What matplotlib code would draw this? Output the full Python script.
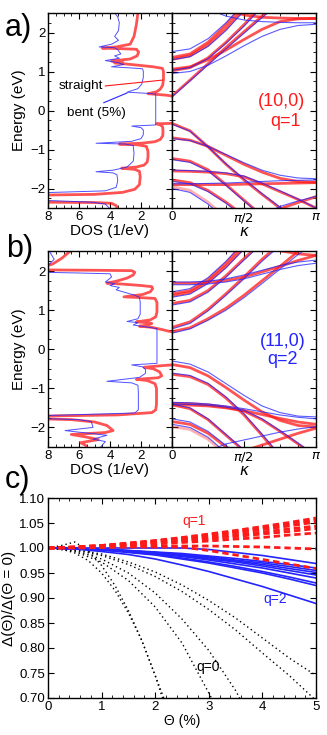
import matplotlib
matplotlib.use('Agg')
import matplotlib.pyplot as plt
import numpy as np
from matplotlib.ticker import MultipleLocator, FixedLocator

plt.rcParams['font.family'] = ['Liberation Sans', 'DejaVu Sans']
plt.rcParams['mathtext.fontset'] = 'dejavusans'

nan = np.nan

# ---------------- DOS curves (DOS value, energy) ----------------
a_red_dos = [2.2, 2.3, 2.45, 2.7, 3.6, 4.5, 3.3, 2.3, 2.15, 2.25, 2.7, 3.9, 3.2, 3.7, 2.4, 1.2,
             0.62, 0.55, 0.55, 0.6, 0.75, 1.0, 1.55, 0.9, 0.3, 0.0, nan,
             0.0, 1.0, 0.75, 0.6, 0.58, 0.6, 0.75, 1.1, 2.0, 3.4, 2.2, 1.65, 1.55, 1.55, 1.6, 1.8,
             2.3, 3.25, 2.4, 2.1, 2.05, 2.1, 2.4, 3.2, 5.0, 8.5, 8.5, 5.0, 3.9, 3.6, 3.55]
a_red_e = [2.5, 2.2, 1.9, 1.7, 1.63, 1.60, 1.585, 1.57, 1.5, 1.4, 1.32, 1.27, 1.25, 1.22, 1.17, 1.12,
           1.08, 1.0, 0.8, 0.65, 0.55, 0.48, 0.43, 0.41, 0.39, 0.37, nan,
           -0.33, -0.34, -0.37, -0.42, -0.55, -0.65, -0.74, -0.80, -0.84, -0.86, -0.88, -0.92, -1.05,
           -1.2, -1.32, -1.40, -1.45, -1.48, -1.51, -1.56, -1.7, -1.9, -2.02, -2.1, -2.15, -2.17,
           -2.35, -2.36, -2.38, -2.44, -2.5]

a_blue_dos = [3.7, 3.5, 3.4, 3.45, 3.7, 3.45, 3.9, 4.7, 3.7, 3.5, 3.3, 3.7, 3.4, 4.3, 3.5, 3.1, 3.9,
              2.6, 1.9, 1.85, 1.85, 1.95, 2.2, 2.9, 1.6, 1.05, 1.05, 2.6, 2.0, 1.85, 1.85, 2.0, 2.6,
              4.9, 3.0, 2.5, 2.45, 2.5, 2.9, 3.8, 4.9, 3.8, 3.55, 3.5, 3.6, 4.3, 8.5, 8.5, 5.2, 4.3, 4.05]
a_blue_e = [2.5, 2.4, 2.25, 2.05, 1.9, 1.8, 1.7, 1.63, 1.61, 1.56, 1.45, 1.4, 1.34, 1.28, 1.23, 1.18,
            1.12, 1.09, 1.07, 1.0, 0.85, 0.68, 0.56, 0.47, 0.44, 0.42, -0.37, -0.40, -0.44, -0.5,
            -0.62, -0.72, -0.79, -0.84, -0.86, -0.9, -1.1, -1.3, -1.45, -1.53, -1.57, -1.6, -1.65,
            -1.8, -1.97, -2.06, -2.11, -2.3, -2.35, -2.4, -2.5]

b_red_dos = [6.6, 7.1, 7.7, 8.5, 8.5, 5.0, 2.6, 2.4, 2.5, 2.9, 3.6, 4.2, 3.3, 2.0, 1.3, 1.25, 1.4, 1.9,
             3.1, 2.0, 1.1, 0.97, 0.97, 1.05, 1.4, 2.3, 1.6, 1.3, 1.6, 2.1, 1.3, 0.6, 0.2, 0.0, nan,
             0.0, 0.97, 1.8, 1.2, 0.8, 0.66, 0.9, 2.3, 1.6, 1.1, 1.0, 1.0, 1.05, 1.3, 3.5, 8.5, 8.5,
             6.5, 5.0, 4.2, 3.8, 4.3, 6.5, 5.6, 4.75, 5.9, 5.6, 5.5]
b_red_e = [2.5, 2.33, 2.18, 2.08, 2.03, 2.02, 2.01, 1.97, 1.90, 1.82, 1.74, 1.69, 1.67, 1.63, 1.60,
           1.55, 1.47, 1.40, 1.34, 1.32, 1.30, 1.2, 0.95, 0.83, 0.75, 0.70, 0.68, 0.66, 0.62, 0.59,
           0.56, 0.50, 0.46, 0.45, nan,
           -0.40, -0.43, -0.46, -0.50, -0.58, -0.68, -0.73, -0.77, -0.80, -0.88, -1.0, -1.4, -1.55,
           -1.62, -1.68, -1.71, -1.78, -1.80, -1.86, -1.95, -2.08, -2.13, -2.18, -2.24, -2.31, -2.39,
           -2.45, -2.5]

b_blue_dos = [7.9, 7.6, 7.9, 8.5, 8.5, 6.0, 4.0, 3.9, 4.1, 4.3, 3.7, 4.0, 3.4, 3.6, 3.0, 2.4, 2.1,
              2.05, 2.05, 2.2, 2.9, 2.2, 2.5, 1.5, 0.97, 0.97, 2.6, 1.9, 1.7, 1.72, 2.1, 4.2, 2.6,
              2.2, 2.17, 2.17, 2.4, 8.5, 8.5, 6.0, 5.2, 5.1, 6.9, 4.2, 5.1, 4.3, 4.6]
b_blue_e = [2.5, 2.3, 2.18, 2.12, 1.97, 1.95, 1.93, 1.85, 1.78, 1.72, 1.68, 1.63, 1.58, 1.52, 1.45,
            1.38, 1.33, 1.2, 0.9, 0.78, 0.71, 0.68, 0.62, 0.56, 0.53, -0.36, -0.40, -0.45, -0.52,
            -0.62, -0.72, -0.82, -0.86, -0.92, -1.1, -1.55, -1.63, -1.70, -1.77, -1.80, -1.85,
            -2.0, -2.08, -2.2, -2.3, -2.36, -2.5]

# ---------------- band structures, energies at kappa/pi below ----------------
k_frac = [0, 0.125, 0.25, 0.375, 0.5, 0.625, 0.75, 0.875, 1.0]

a_red_bands = [
    [0.37, 0.78, 1.20, 1.62, 2.02, 2.42, 2.8, 3.2, 3.5],
    [1.06, 1.12, 1.30, 1.55, 1.82, 2.08, 2.28, 2.35, 2.36],
    [1.02, 1.10, 1.35, 1.75, 2.2, 2.7, 3.1, 3.4, 3.5],
    [1.31, 1.40, 1.68, 2.10, 2.6, 3.0, 3.4, 3.5, 3.5],
    [1.36, 1.45, 1.75, 2.2, 2.7, 3.1, 3.4, 3.5, 3.5],
    [3.4, 3.1, 2.8, 2.58, 2.45, 2.39, 2.37, 2.36, 2.36],
    [-0.33, -0.52, -0.93, -1.38, -1.78, -2.15, -2.5, -2.85, -3.1],
    [-0.70, -0.76, -0.92, -1.15, -1.38, -1.58, -1.74, -1.82, -1.84],
    [-1.23, -1.30, -1.52, -1.90, -2.30, -2.7, -3.0, -3.2, -3.3],
    [-1.90, -1.90, -1.90, -1.90, -1.89, -1.88, -1.87, -1.86, -1.85],
    [-1.78, -1.85, -2.05, -2.35, -2.7, -3.0, -3.2, -3.3, -3.3],
    [-3.3, -3.3, -3.2, -3.1, -2.95, -2.75, -2.52, -2.36, -2.21],
    [-1.55, -1.56, -1.58, -1.62, -1.70, -1.88, -2.08, -2.28, -2.5],
]
a_pink_bands = [
    [-1.95, -2.05, -2.35, -2.75, -3.1, -3.3, -3.3, -3.3, -3.3],
]
a_blue_bands = [
    [0.35, 0.76, 1.17, 1.58, 1.98, 2.38, 2.76, 3.1, 3.4],
    [0.95, 1.0, 1.16, 1.40, 1.66, 1.90, 2.08, 2.18, 2.21],
    [1.03, 1.10, 1.33, 1.72, 2.16, 2.65, 3.0, 3.3, 3.4],
    [1.30, 1.38, 1.64, 2.05, 2.55, 3.0, 3.3, 3.4, 3.4],
    [1.51, 1.58, 1.84, 2.25, 2.75, 3.1, 3.3, 3.4, 3.4],
    [3.1, 2.85, 2.6, 2.42, 2.32, 2.28, 2.26, 2.25, 2.25],
    [-0.35, -0.53, -0.93, -1.37, -1.76, -2.13, -2.48, -2.85, -3.1],
    [-0.72, -0.77, -0.92, -1.13, -1.34, -1.53, -1.66, -1.73, -1.75],
    [-1.26, -1.33, -1.55, -1.92, -2.32, -2.7, -3.0, -3.2, -3.3],
    [-1.88, -1.88, -1.87, -1.86, -1.84, -1.82, -1.80, -1.79, -1.78],
    [-1.82, -1.88, -2.08, -2.38, -2.72, -3.0, -3.2, -3.3, -3.3],
    [-2.0, -2.1, -2.4, -2.8, -3.1, -3.3, -3.3, -3.3, -3.3],
    [-3.3, -3.3, -3.2, -3.1, -2.9, -2.68, -2.46, -2.32, -2.2],
    [-1.53, -1.54, -1.56, -1.60, -1.68, -1.86, -2.06, -2.27, -2.5],
]

b_red_bands = [
    [0.45, 0.55, 0.78, 1.05, 1.38, 1.75, 2.12, 2.5, 2.8],
    [0.56, 0.70, 1.02, 1.42, 1.85, 2.3, 2.7, 3.0, 3.0],
    [1.17, 1.25, 1.50, 1.88, 2.32, 2.75, 3.0, 3.0, 3.0],
    [1.37, 1.45, 1.72, 2.12, 2.6, 3.0, 3.0, 3.0, 3.0],
    [1.42, 1.50, 1.78, 2.2, 2.7, 3.0, 3.0, 3.0, 3.0],
    [1.69, 1.69, 1.71, 1.76, 1.85, 1.98, 2.12, 2.27, 2.40],
    [3.0, 3.0, 3.0, 2.95, 2.8, 2.65, 2.52, 2.44, 2.40],
    [-0.39, -0.47, -0.68, -0.98, -1.30, -1.60, -1.82, -1.95, -1.99],
    [-0.64, -0.70, -0.90, -1.25, -1.68, -2.2, -2.75, -3.2, -3.5],
    [-1.38, -1.39, -1.42, -1.48, -1.57, -1.67, -1.77, -1.86, -1.92],
    [-1.42, -1.52, -1.80, -2.2, -2.6, -3.0, -3.3, -3.5, -3.5],
    [-1.85, -1.92, -2.15, -2.5, -2.9, -3.3, -3.5, -3.5, -3.5],
    [-3.5, -3.3, -3.0, -2.8, -2.6, -2.45, -2.30, -2.15, -2.02],
    [-1.42, -1.43, -1.45, -1.50, -1.58, -1.80, -2.10, -2.42, -2.75],
]
b_pink_bands = [
    [-1.98, -2.05, -2.3, -2.7, -3.1, -3.5, -3.5, -3.5, -3.5],
]
b_blue_bands = [
    [0.41, 0.52, 0.74, 1.0, 1.32, 1.68, 2.05, 2.42, 2.75],
    [0.52, 0.66, 0.98, 1.38, 1.8, 2.25, 2.65, 3.0, 3.0],
    [1.13, 1.21, 1.46, 1.84, 2.28, 2.7, 3.0, 3.0, 3.0],
    [1.33, 1.41, 1.68, 2.08, 2.56, 3.0, 3.0, 3.0, 3.0],
    [1.47, 1.55, 1.83, 2.25, 2.75, 3.0, 3.0, 3.0, 3.0],
    [1.65, 1.65, 1.67, 1.72, 1.80, 1.92, 2.04, 2.14, 2.20],
    [1.72, 1.72, 1.74, 1.80, 1.90, 2.02, 2.14, 2.23, 2.28],
    [-0.30, -0.38, -0.58, -0.88, -1.18, -1.45, -1.62, -1.71, -1.73],
    [-0.61, -0.67, -0.87, -1.22, -1.65, -2.17, -2.72, -3.2, -3.5],
    [-1.36, -1.37, -1.40, -1.45, -1.52, -1.60, -1.68, -1.74, -1.78],
    [-1.40, -1.50, -1.78, -2.18, -2.58, -3.0, -3.3, -3.5, -3.5],
    [-1.78, -1.86, -2.10, -2.46, -2.85, -3.2, -3.5, -3.5, -3.5],
    [-1.92, -2.0, -2.25, -2.65, -3.0, -3.5, -3.5, -3.5, -3.5],
    [-3.5, -3.0, -2.6, -2.42, -2.32, -2.22, -2.12, -2.04, -1.98],
    [-1.40, -1.41, -1.43, -1.48, -1.56, -1.78, -2.08, -2.40, -2.72],
]

# ---------------- panel c: gap ratio vs bending ----------------
c_theta = [0, 0.5, 1, 1.5, 2, 2.5, 3, 3.5, 4, 4.5, 5]
c_q1 = [
    [1.000, 1.002, 1.005, 1.010, 1.015, 1.021, 1.028, 1.035, 1.043, 1.051, 1.060],
    [1.000, 1.002, 1.005, 1.009, 1.014, 1.020, 1.026, 1.033, 1.040, 1.048, 1.056],
    [1.000, 1.002, 1.005, 1.009, 1.013, 1.018, 1.024, 1.030, 1.037, 1.044, 1.052],
    [1.000, 1.001, 1.004, 1.007, 1.011, 1.016, 1.020, 1.026, 1.032, 1.038, 1.044],
    [1.000, 1.001, 1.003, 1.006, 1.010, 1.014, 1.018, 1.023, 1.028, 1.033, 1.039],
    [1.000, 1.001, 1.003, 1.005, 1.008, 1.011, 1.014, 1.018, 1.021, 1.026, 1.030],
    [1.000, 1.001, 1.002, 1.003, 1.004, 1.004, 1.004, 1.003, 1.002, 1.000, 0.998],
    [1.000, 1.000, 1.001, 1.002, 1.002, 1.002, 0.995, 0.986, 0.977, 0.968, 0.959],
]
c_q2 = [
    [1.000, 1.000, 1.000, 1.000, 1.000, 1.000, 0.997, 0.991, 0.985, 0.977, 0.969],
    [1.000, 0.999, 0.998, 0.995, 0.992, 0.989, 0.984, 0.979, 0.973, 0.967, 0.960],
    [1.000, 0.999, 0.998, 0.995, 0.991, 0.987, 0.982, 0.976, 0.970, 0.963, 0.955],
    [1.000, 0.999, 0.997, 0.994, 0.991, 0.986, 0.980, 0.974, 0.967, 0.959, 0.951],
    [1.000, 0.999, 0.997, 0.994, 0.990, 0.985, 0.978, 0.972, 0.964, 0.955, 0.946],
    [1.000, 0.999, 0.997, 0.993, 0.988, 0.983, 0.976, 0.968, 0.960, 0.950, 0.940],
    [1.000, 0.999, 0.996, 0.992, 0.987, 0.980, 0.972, 0.963, 0.953, 0.942, 0.930],
    [1.000, 0.999, 0.996, 0.991, 0.986, 0.978, 0.970, 0.960, 0.950, 0.938, 0.925],
    [1.000, 0.998, 0.993, 0.987, 0.978, 0.966, 0.953, 0.938, 0.923, 0.906, 0.889],
]
c_q0_theta = [
    [0, 0.25, 0.5, 0.75, 1.0, 1.25, 1.5, 1.75, 2.0, 2.25],
    [0, 0.25, 0.5, 0.75, 1.0, 1.25, 1.5, 1.75, 2.0, 2.15],
    [0, 0.5, 1, 1.5, 2, 2.5, 3.0, 3.1],
    [0, 0.5, 1, 1.5, 2, 2.5, 3, 3.5, 3.6],
    [0, 0.5, 1, 1.5, 2, 2.5, 3, 3.5, 4, 4.5, 5],
    [0, 0.5, 1, 1.5, 2, 2.5, 3, 3.5, 4, 4.5, 5],
]
c_q0 = [
    [1.000, 1.005, 1.012, 0.995, 0.965, 0.925, 0.875, 0.815, 0.745, 0.675],
    [1.000, 0.998, 0.990, 0.975, 0.950, 0.915, 0.870, 0.815, 0.745, 0.695],
    [1.000, 0.993, 0.972, 0.935, 0.882, 0.810, 0.710, 0.690],
    [1.000, 0.995, 0.978, 0.950, 0.910, 0.858, 0.795, 0.715, 0.695],
    [1.000, 0.997, 0.988, 0.972, 0.952, 0.926, 0.895, 0.860, 0.820, 0.780, 0.745],
    [1.000, 0.996, 0.985, 0.967, 0.943, 0.913, 0.877, 0.836, 0.790, 0.745, 0.695],
]

RED = '#ff1a1a'
BLUE = '#2424ff'
W, H = 327.0, 735.0

fig = plt.figure(figsize=(3.27, 7.35), dpi=100)


def style(ax):
    ax.tick_params(which='both', direction='in', top=True, right=True, labelsize=9.5, pad=2)
    ax.tick_params(which='major', length=4, width=0.8)
    ax.tick_params(which='minor', length=2, width=0.6)
    for s in ax.spines.values():
        s.set_linewidth(1.0)


def dos_panel(top, bottom, red_d, red_e, blue_d, blue_e):
    ax = fig.add_axes([48 / W, 1 - bottom / H, 124 / W, (bottom - top) / H])
    ax.plot(red_d, red_e, color=RED, lw=2.0, alpha=0.75, solid_joinstyle='round')
    ax.plot(blue_d, blue_e, color=BLUE, lw=0.7, alpha=0.8)
    ax.set_xlim(8, 0)
    ax.set_ylim(-2.5, 2.5)
    ax.xaxis.set_major_locator(FixedLocator([8, 6, 4, 2, 0]))
    ax.xaxis.set_minor_locator(MultipleLocator(0.5))
    ax.yaxis.set_major_locator(MultipleLocator(1))
    ax.yaxis.set_minor_locator(MultipleLocator(0.25))
    style(ax)
    ax.set_xlabel('DOS (1/eV)', fontsize=11, labelpad=1)
    ax.set_ylabel('Energy (eV)', fontsize=11, labelpad=3)
    return ax


def band_panel(top, bottom, red_b, pink_b, blue_b):
    ax = fig.add_axes([172 / W, 1 - bottom / H, 144 / W, (bottom - top) / H])
    kk = np.array(k_frac) * np.pi
    for b in red_b:
        ax.plot(kk, b, color=RED, lw=2.0, alpha=0.75)
    for b in pink_b:
        ax.plot(kk, b, color=RED, lw=2.0, alpha=0.35)
    for b in blue_b:
        ax.plot(kk, b, color=BLUE, lw=0.8, alpha=0.75)
    ax.set_xlim(0, np.pi)
    ax.set_ylim(-2.5, 2.5)
    ax.set_xticks([0, np.pi / 2, np.pi])
    ax.set_xticklabels(['', r'$\pi/2$', r'$\pi$'])
    ax.xaxis.set_minor_locator(MultipleLocator(np.pi / 8))
    ax.yaxis.set_major_locator(MultipleLocator(1))
    ax.yaxis.set_minor_locator(MultipleLocator(0.25))
    ax.set_yticklabels([])
    style(ax)
    ax.set_xlabel(r'$\kappa$', fontsize=11, labelpad=0)
    return ax


# panel a
dos_a = dos_panel(13, 208, a_red_dos, a_red_e, a_blue_dos, a_blue_e)
band_a = band_panel(13, 208, a_red_bands, a_pink_bands, a_blue_bands)
dos_a.text(7.3, 0.63, 'straight', fontsize=9.7, va='center', ha='left')
dos_a.plot([4.3, 0.6], [0.63, 0.78], color=RED, lw=0.8)
dos_a.text(6.8, -0.06, 'bent (5%)', fontsize=9.7, va='center', ha='left')
dos_a.plot([4.4, 2.9], [0.2, 0.45], color=BLUE, lw=0.8)
band_a.text(0.757 * np.pi, 0.22, '(10,0)', color=RED, fontsize=13, ha='center', va='center')
band_a.text(0.785 * np.pi, -0.27, 'q=1', color=RED, fontsize=13, ha='center', va='center')

# panel b
dos_b = dos_panel(251.5, 447, b_red_dos, b_red_e, b_blue_dos, b_blue_e)
band_b = band_panel(251.5, 447, b_red_bands, b_pink_bands, b_blue_bands)
band_b.text(0.77 * np.pi, 0.19, '(11,0)', color=BLUE, fontsize=13, ha='center', va='center')
band_b.text(0.77 * np.pi, -0.25, 'q=2', color=BLUE, fontsize=13, ha='center', va='center')

# panel c
axc = fig.add_axes([48 / W, 1 - 698 / H, 268 / W, 200 / H])
for th, v in zip(c_q0_theta, c_q0):
    axc.plot(th, v, color='black', lw=1.0, linestyle=(0, (1, 2.2)))
for v in c_q2:
    axc.plot(c_theta, v, color=BLUE, lw=1.2)
for v in c_q1:
    axc.plot(c_theta, v, color=RED, lw=2.0, dashes=(2.3, 1.4))
axc.set_xlim(0, 5)
axc.set_ylim(0.70, 1.10)
axc.xaxis.set_major_locator(MultipleLocator(1))
axc.xaxis.set_minor_locator(MultipleLocator(0.2))
axc.yaxis.set_major_locator(MultipleLocator(0.05))
axc.yaxis.set_major_formatter(matplotlib.ticker.FormatStrFormatter('%.2f'))
style(axc)
axc.set_xlabel('Θ (%)', fontsize=10, labelpad=1)
axc.set_ylabel('Δ(Θ)/Δ(Θ = 0)', fontsize=11, labelpad=2)
axc.text(2.5, 1.053, 'q=1', color=RED, fontsize=10, va='center', ha='left')
axc.text(4.24, 0.897, 'q=2', color=BLUE, fontsize=10, va='center', ha='center')
axc.text(2.99, 0.763, 'q=0', color='black', fontsize=10, va='center', ha='center')

# panel letters
fig.text(5 / W, 1 - 36 / H, 'a)', fontsize=22, va='baseline', ha='left')
fig.text(6 / W, 1 - 257 / H, 'b)', fontsize=22, va='baseline', ha='left')
fig.text(5 / W, 1 - 488 / H, 'c)', fontsize=22, va='baseline', ha='left')

fig.savefig('out.png', dpi=100)
